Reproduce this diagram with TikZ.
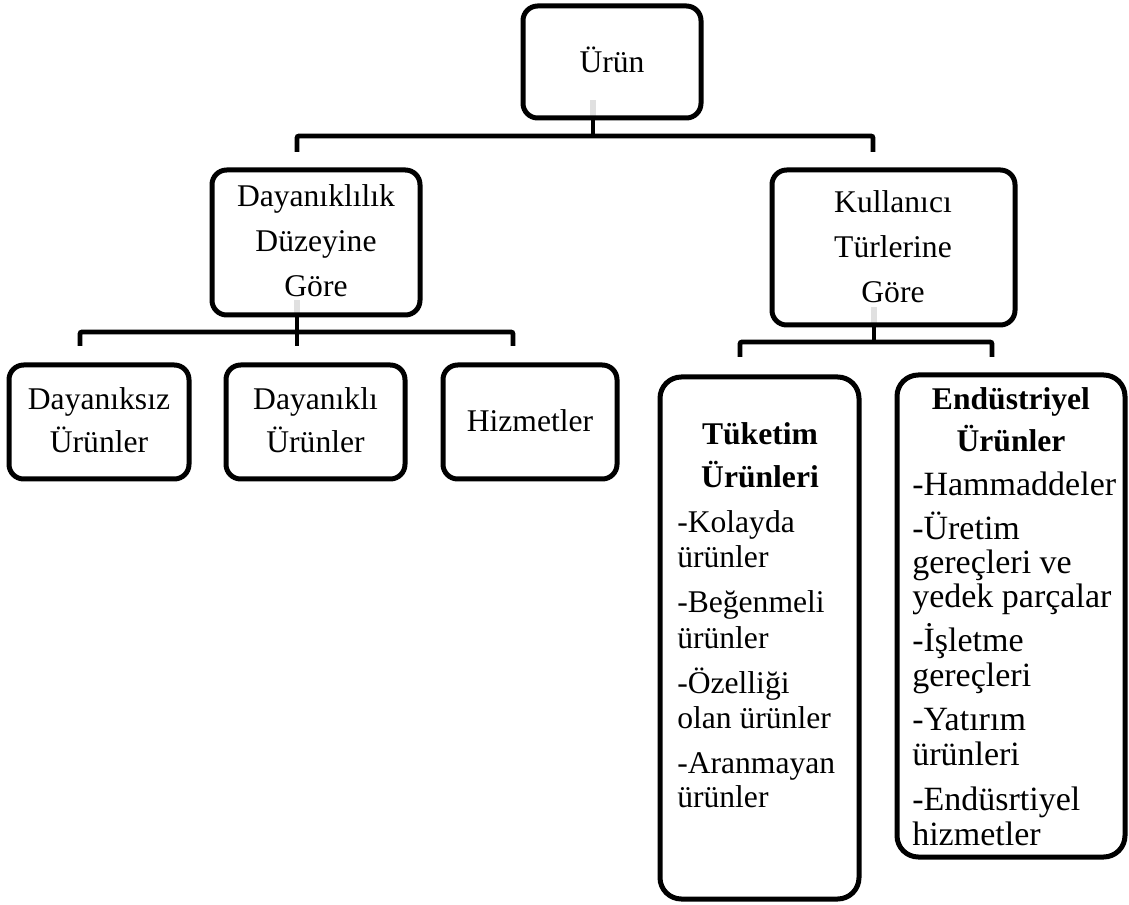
\documentclass[tikz,border=0pt]{standalone}
\usepackage{fontspec}
\setmainfont{Liberation Serif}
\usetikzlibrary{backgrounds}

% box from corner (x1,y1) to corner (x2,y2), in pixel units
\newcommand\pxbox[6][box]{%
  \node[#1, minimum width={(#5-#3)*0.75pt}, minimum height={(#6-#4)*0.75pt}]
    (#2) at ({(#3+#5)/2},{(#4+#6)/2}) {};}

\begin{document}
\begin{tikzpicture}[x=0.75pt, y=-0.75pt,
  box/.style={draw, line width=3.75pt, rounded corners=11pt, inner sep=0pt},
  tallbox/.style={box, rounded corners=16pt},
  conn/.style={line width=3.6pt, rounded corners=1.5pt},
  stub/.style={line width=4.5pt, draw=black!12},
  txt/.style={anchor=base, inner sep=0pt, font=\fontsize{23.7}{28}\selectfont},
  item/.style={txt, anchor=base west},
  bigitem/.style={item, font=\fontsize{25.5}{30}\selectfont},
  head/.style={txt, font=\fontsize{23.7}{28}\selectfont\bfseries}]

\useasboundingbox (0,0) rectangle (1129,905);

% ---- boxes ----
\pxbox{urun}{523}{6}{701}{118}
\pxbox{dayan}{212}{170}{420}{315}
\pxbox{kull}{772}{170}{1015}{325}
\pxbox{dsiz}{9}{365}{189}{479}
\pxbox{dli}{226}{365}{405}{479}
\pxbox{hiz}{443}{365}{617}{479}
\pxbox[tallbox]{tuk}{660}{377}{859}{899}
\pxbox[tallbox]{end}{897}{375}{1125}{857}

% ---- box texts ----
\node[txt] (urun-t) at (612,73) {Ürün};

\node[txt] (dayan-1) at (316,207) {Dayanıklılık};
\node[txt] (dayan-2) at (316,252) {Düzeyine};
\node[txt] (dayan-3) at (316,297) {Göre};

\node[txt] (kull-1) at (893,213) {Kullanıcı};
\node[txt] (kull-2) at (893,258) {Türlerine};
\node[txt] (kull-3) at (893,303) {Göre};

\node[txt] (dsiz-1) at (99,410) {Dayanıksız};
\node[txt] (dsiz-2) at (99,453) {Ürünler};
\node[txt] (dli-1) at (315.5,410) {Dayanıklı};
\node[txt] (dli-2) at (315.5,453) {Ürünler};
\node[txt] (hiz-t) at (530,432) {Hizmetler};

\node[head] (tuk-h1) at (760,445) {Tüketim};
\node[head] (tuk-h2) at (760,488) {Ürünleri};
\foreach \yy/\tt [count=\i] in {533/-Kolayda, 568/ürünler, 613/-Beğenmeli,
    648/ürünler, 693/-Özelliği, 728/olan ürünler, 773/-Aranmayan, 807/ürünler}
  \node[item] (tuk-\i) at (677,\yy) {\tt};

\node[head] (end-h1) at (1011,410) {Endüstriyel};
\node[head] (end-h2) at (1011,452) {Ürünler};
\foreach \yy/\tt [count=\i] in {496/-Hammaddeler, 540/-Üretim, 574/gereçleri ve,
    608/yedek parçalar, 652/-İşletme, 686/gereçleri, 730/-Yatırım,
    765/ürünleri, 810/-Endüsrtiyel, 845/hizmetler}
  \node[bigitem] (end-\i) at (912,\yy) {\tt};

% ---- connectors ----
\coordinate (s0) at (593,100);
\coordinate (j0) at (593,136);
\coordinate (l0) at (297,152);
\coordinate (r0) at (873,152);

\coordinate (s1) at (297,300);
\coordinate (j1) at (297,332);
\coordinate (a1) at (80,346);
\coordinate (b1) at (297,346);
\coordinate (c1) at (513,346);

\coordinate (s2) at (874,307);
\coordinate (j2) at (874,342);
\coordinate (a2) at (740,357);
\coordinate (c2) at (992,357);

\begin{scope}[on background layer]
  \draw[stub] (s0) -- (urun.south -| s0);
  \draw[stub] (s1) -- (dayan.south -| s1);
  \draw[stub] (s2) -- (kull.south -| s2);
\end{scope}

\draw[conn] (urun.south -| j0) -- (j0);
\draw[conn] (l0) |- (j0) -| (r0);

\draw[conn] (dayan.south -| j1) -- (b1);
\draw[conn] (a1) |- (j1) -| (c1);

\draw[conn] (kull.south -| j2) -- (j2);
\draw[conn] (a2) |- (j2) -| (c2);

\end{tikzpicture}
\end{document}
